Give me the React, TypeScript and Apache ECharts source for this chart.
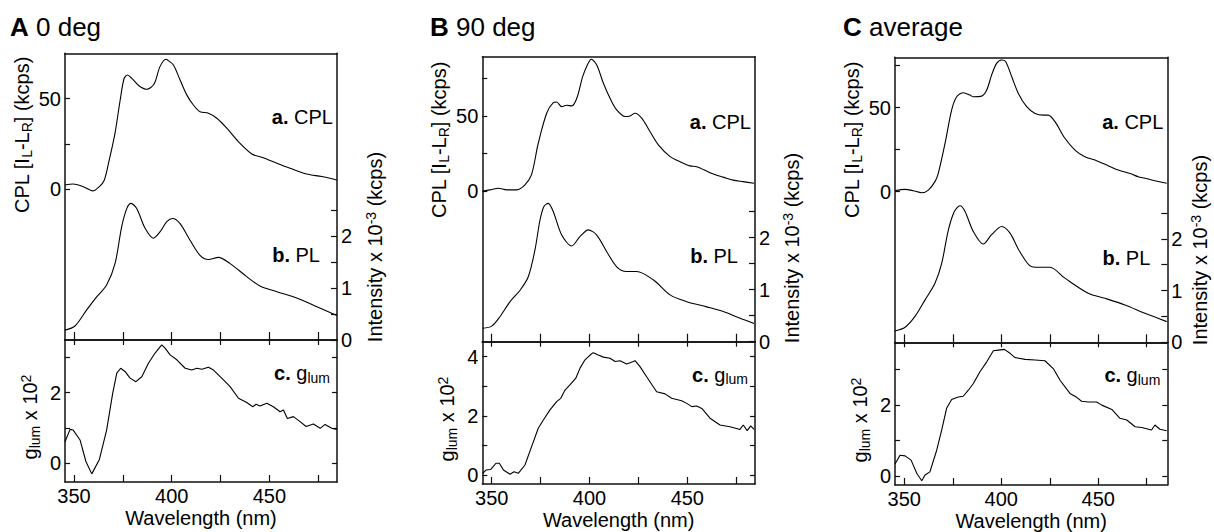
import React, { useEffect, useRef } from 'react';
import * as echarts from 'echarts';

const FONT = '"Liberation Sans", Arial, Helvetica, sans-serif';

const X_TICKS = [350, 375, 400, 425, 450, 475];
const X_LABELS = [350, 400, 450];

// Panel A (0 deg)
const A_CPL = [[345.4,2.4],[349.6,2.9],[354.8,1.4],[359.6,-0.9],[363,1.5],[365.5,5],[367.6,14],[371,31],[373.6,49],[375.6,61],[377.3,63.1],[379.5,61.3],[383.4,57],[387.2,55.2],[391,58.1],[394,67.7],[397.1,71.8],[398.3,71],[400.9,68.6],[404.3,60.3],[407.7,52.1],[411.1,46.5],[414.5,42.8],[418.8,42],[423.1,39.2],[428.2,33.7],[434.1,26.3],[441,19.5],[446.9,17.4],[453.8,14.4],[460.6,11.6],[469.1,8.4],[476.8,7],[484.5,5.1]];
const A_PL = [[345.4,0.19],[350.5,0.27],[356.5,0.58],[361.6,0.83],[366.7,1.06],[371,1.47],[374.4,2.18],[377,2.53],[379.2,2.63],[382.1,2.53],[386.4,2.15],[390.6,1.96],[394,2.08],[397.5,2.28],[400.5,2.34],[404.3,2.24],[409.4,1.92],[414.5,1.63],[418.8,1.55],[423.9,1.59],[429.9,1.47],[438.4,1.22],[445.2,1.04],[453.8,0.93],[464,0.81],[474.3,0.64],[484.5,0.47]];
const A_GLUM = [[345.4,0.61],[348,0.96],[349.6,0.94],[353.1,0.66],[356.1,0.05],[359.1,-0.3],[363,0.11],[366.7,0.94],[369.8,1.98],[371.9,2.55],[373.9,2.69],[376.1,2.6],[378.7,2.41],[381.7,2.31],[384.7,2.45],[388.1,2.83],[391.5,3.12],[394.9,3.35],[396.6,3.26],[399.2,3.07],[402.6,2.93],[406.9,2.69],[410.3,2.64],[412.9,2.69],[415.4,2.66],[418.8,2.72],[421.4,2.64],[426.5,2.36],[429.9,2.17],[434.2,1.84],[438.4,1.72],[441.5,1.6],[443.2,1.67],[445.2,1.62],[448.7,1.7],[452,1.6],[455.5,1.46],[457.2,1.51],[459.2,1.27],[462.3,1.32],[465.7,1.18],[468.8,1.04],[472.5,1.11],[476,0.99],[478.5,1.1],[481.9,0.99],[484.5,0.96]];

// Panel B (90 deg)
const B_CPL = [[345.4,0],[349.1,0.7],[353.4,1.8],[357.7,0.7],[362.8,0.7],[367,4],[370.4,11],[373.8,31.8],[378.1,51.8],[381.5,58.9],[383.2,59.3],[385.8,56.2],[388.3,57.1],[390.9,56.7],[393.5,61.8],[396.5,76.2],[398.9,84],[400.9,87.8],[403.7,84],[407.1,71.8],[410.5,61.8],[413.9,54],[418.2,49.6],[420.7,50],[423.3,51.8],[426.7,48.5],[430.9,39.6],[435.2,30.7],[441.2,22.9],[446.3,19.5],[451.4,16.7],[454.8,16.2],[461.6,12.2],[465,10.5],[468.4,9.2],[473.5,7.2],[478.6,6.2],[484.1,5.1]];
const B_PL = [[345.4,0.26],[350,0.3],[354.2,0.48],[359.4,0.77],[364.5,0.99],[368.7,1.25],[372.1,1.76],[374.7,2.34],[376.7,2.6],[378.9,2.66],[381.5,2.5],[385.8,2.05],[390.9,1.84],[395.1,2.02],[399.4,2.15],[403.7,2.05],[408.8,1.73],[413.9,1.44],[419,1.35],[424.1,1.35],[432.6,1.19],[441.2,0.9],[449.7,0.77],[459.9,0.67],[468.4,0.58],[477,0.45],[484.1,0.35]];
const B_GLUM = [[345.4,0.06],[347.1,0.17],[349.5,0.19],[352.2,0.4],[353.9,0.4],[356,0.17],[359.4,0.03],[361.4,0.11],[363.6,0.06],[367,0.34],[370.4,0.96],[373.8,1.58],[376.4,1.86],[379.8,2.2],[383.2,2.48],[385.3,2.59],[387.5,2.87],[390,3.04],[393,3.27],[395.1,3.6],[397.7,3.89],[400.3,4.05],[401.9,4.13],[404.5,4.05],[407.1,3.98],[410.5,3.94],[413.1,3.83],[415.6,3.86],[419,3.75],[422.4,3.83],[423.3,3.86],[425.8,3.66],[429.2,3.32],[434.3,2.81],[438.6,2.74],[442,2.59],[447.1,2.51],[449.7,2.42],[452.3,2.31],[454.8,2.33],[457.4,2.25],[461.6,1.92],[466.7,1.69],[471.8,1.63],[476.9,1.54],[478.6,1.69],[480.6,1.5],[482.4,1.66],[484.1,1.54]];

// Panel C (average)
const C_CPL = [[345.2,0.6],[350.4,1.4],[354.6,0.6],[359,-0.6],[362.4,1],[365.8,6],[367.5,10.9],[371,28.8],[374.4,48.6],[377,56.5],[380.4,58.9],[383.9,57.5],[385.6,56.5],[389.9,56.9],[392.5,60.5],[395,69.4],[397.6,76.4],[400.2,78.4],[402.3,77.4],[405.4,68.4],[408.8,58.5],[413.1,50.6],[417.4,46.6],[421.6,45.6],[424.2,45.6],[427.7,41.7],[432.8,31.8],[438,24.8],[443.1,20.8],[448.3,18.9],[453.5,16.3],[460.3,12.9],[467.2,10.5],[470.6,8.9],[474.1,8],[477.5,7],[485.3,5]];
const C_PL = [[345.2,0.22],[350.4,0.29],[355.5,0.5],[360.7,0.82],[365.8,1.14],[369.3,1.53],[372.7,2.17],[375.8,2.53],[378.7,2.64],[381.3,2.53],[385.6,2.14],[390.7,1.9],[395,2.08],[400.2,2.24],[404.5,2.11],[409.6,1.75],[415.7,1.46],[420.8,1.45],[425.1,1.45],[432.8,1.24],[444.8,0.95],[453.5,0.85],[463.8,0.72],[474.1,0.56],[485.3,0.4]];
const C_GLUM = [[345.2,0.34],[347.8,0.59],[350.4,0.57],[353.5,0.45],[356.4,0.08],[359,-0.13],[360.7,0.03],[363.2,0.12],[366.7,0.73],[369.3,1.3],[371.8,1.91],[374.4,2.16],[377.8,2.23],[380.4,2.25],[383,2.42],[385.6,2.61],[389,2.94],[392.5,3.22],[395.9,3.53],[398.5,3.55],[401.6,3.57],[404.5,3.46],[407.1,3.34],[412.3,3.29],[417.4,3.27],[422.5,3.25],[426.8,3.03],[430.3,2.7],[435.4,2.33],[438.9,2.22],[441.4,2.11],[444.9,2.09],[449.2,2.09],[451.8,2],[457,1.88],[461.2,1.63],[464.7,1.58],[469,1.39],[472.4,1.37],[477.5,1.3],[479.2,1.44],[481.8,1.32],[485.3,1.28]];

const PANELS = [
  { letter: 'A', title: '0 deg', cpl: A_CPL, pl: A_PL, glum: A_GLUM, cplTicks: [0, 25, 50], glumTicks: [0, 1, 2, 3], glumLabels: [0, 2] },
  { letter: 'B', title: '90 deg', cpl: B_CPL, pl: B_PL, glum: B_GLUM, cplTicks: [0, 25, 50, 75], glumTicks: [0, 1, 2, 3, 4], glumLabels: [0, 2, 4] },
  { letter: 'C', title: 'average', cpl: C_CPL, pl: C_PL, glum: C_GLUM, cplTicks: [0, 25, 50, 75], glumTicks: [0, 1, 2, 3], glumLabels: [0, 2] },
];
const CPL_LABELS = [0, 50];
const PL_TICKS = [0, 0.5, 1, 1.5, 2, 2.5];
const PL_LABELS = [0, 1, 2];

// layout (pixels) and axis extents per panel
const LAYOUT = [
  { L: 65, R: 337, T: 53.3, S: 340, B: 482, x: [345.4, 484.6], cpl: [-83.2, 75.05], pl: [0, 5.52], glum: [-0.53, 3.49], titleX: 10, cplY: 135, plY: 247, plDx: 38, glumY: 417 },
  { L: 482.3, R: 755, T: 56.7, S: 341.7, B: 484, x: [345.2, 484.6], cpl: [-100.5, 89.5], pl: [0, 5.48], glum: [-0.3, 4.5], titleX: 430, cplY: 140, plY: 248, plDx: 37, glumY: 419 },
  { L: 895, R: 1167.3, T: 57.3, S: 342.3, B: 485, x: [345.2, 485.6], cpl: [-89.6, 80], pl: [0, 5.51], glum: [-0.25, 3.77], titleX: 843, cplY: 140, plY: 250, plDx: 33, glumY: 420 },
];

const FS = 20;
const TFS = 26;
const INK = '#111';

function buildOption() {
  const grid: any[] = [];
  const xAxis: any[] = [];
  const yAxis: any[] = [];
  const series: any[] = [];
  const graphic: any[] = [];
  const line = { show: true, onZero: false, lineStyle: { color: INK, width: 1.5 } };
  const lbl = { color: '#000', fontSize: FS, fontFamily: FONT };
  const tick = (vals: number[], len: number) => ({ show: true, inside: true, length: len, customValues: vals, lineStyle: { color: INK, width: 1.2 } });
  const noSplit = { show: false };
  const rich = {
    b: { fontWeight: 'bold', fontSize: FS, fontFamily: FONT, fill: '#000' },
    sub: { fontSize: 14, lineHeight: 14, verticalAlign: 'bottom', fontFamily: FONT, fill: '#000' },
    sup: { fontSize: 14, lineHeight: 14, verticalAlign: 'top', fontFamily: FONT, fill: '#000' },
  };

  PANELS.forEach((p, i) => {
    const g = LAYOUT[i];
    const gu = 2 * i;
    const gl = 2 * i + 1;
    const W = g.R - g.L;
    grid.push({ left: g.L, top: g.T, width: W, height: g.S - g.T });
    grid.push({ left: g.L, top: g.S, width: W, height: g.B - g.S });

    // upper grid x axes
    xAxis.push({ type: 'value', gridIndex: gu, position: 'bottom', min: g.x[0], max: g.x[1], axisLine: line, axisTick: tick(X_TICKS, 8), axisLabel: { show: false }, splitLine: noSplit });
    xAxis.push({ type: 'value', gridIndex: gu, position: 'top', min: g.x[0], max: g.x[1], axisLine: line, axisTick: { show: false }, axisLabel: { show: false }, splitLine: noSplit });
    // lower grid x axes
    xAxis.push({
      type: 'value', gridIndex: gl, position: 'bottom', min: g.x[0], max: g.x[1], axisLine: line, axisTick: tick(X_TICKS, 7),
      axisLabel: { ...lbl, show: true, customValues: X_LABELS, margin: 4 }, splitLine: noSplit,
      name: 'Wavelength (nm)', nameLocation: 'middle', nameGap: 26, nameTextStyle: { ...lbl },
    });
    xAxis.push({ type: 'value', gridIndex: gl, position: 'top', min: g.x[0], max: g.x[1], axisLine: line, axisTick: tick(X_TICKS, 5), axisLabel: { show: false }, splitLine: noSplit });

    // upper y axes
    yAxis.push({ type: 'value', gridIndex: gu, position: 'left', min: g.cpl[0], max: g.cpl[1], axisLine: line, axisTick: tick(p.cplTicks, 5), axisLabel: { ...lbl, customValues: CPL_LABELS, margin: 4 }, splitLine: noSplit });
    yAxis.push({ type: 'value', gridIndex: gu, position: 'right', min: g.pl[0], max: g.pl[1], axisLine: line, axisTick: tick(PL_TICKS, 6), axisLabel: { ...lbl, customValues: PL_LABELS, margin: 4 }, splitLine: noSplit });
    // lower y axes
    yAxis.push({ type: 'value', gridIndex: gl, position: 'left', min: g.glum[0], max: g.glum[1], axisLine: line, axisTick: tick(p.glumTicks, 5), axisLabel: { ...lbl, customValues: p.glumLabels, margin: 4 }, splitLine: noSplit });
    yAxis.push({ type: 'value', gridIndex: gl, position: 'right', min: g.glum[0], max: g.glum[1], axisLine: line, axisTick: tick(p.glumTicks, 5), axisLabel: { show: false }, splitLine: noSplit });

    const ls = { color: '#000', width: 1.1 };
    series.push({ type: 'line', name: `${p.letter} CPL`, xAxisIndex: 4 * i, yAxisIndex: 4 * i, data: p.cpl, showSymbol: false, smooth: 0.3, lineStyle: ls, clip: false });
    series.push({ type: 'line', name: `${p.letter} PL`, xAxisIndex: 4 * i, yAxisIndex: 4 * i + 1, data: p.pl, showSymbol: false, smooth: 0.3, lineStyle: ls, clip: false });
    series.push({ type: 'line', name: `${p.letter} glum`, xAxisIndex: 4 * i + 2, yAxisIndex: 4 * i + 2, data: p.glum, showSymbol: false, smooth: false, lineStyle: ls, clip: false });

    // panel title
    graphic.push({ type: 'text', x: g.titleX, y: 27, style: { text: `{t|${p.letter}} ${p.title}`, rich: { t: { fontWeight: 'bold', fontSize: TFS, fontFamily: FONT, fill: '#000' } }, fontSize: TFS, fontFamily: FONT, fill: '#000', align: 'left', verticalAlign: 'middle' } });
    // axis titles (rotated)
    graphic.push({ type: 'text', x: g.L - 43, y: g.cplY, rotation: Math.PI / 2, style: { text: 'CPL [I{sub|L}-L{sub|R}] (kcps)', rich, fontSize: FS, lineHeight: 23, fontFamily: FONT, fill: '#000', align: 'center', verticalAlign: 'middle' } });
    graphic.push({ type: 'text', x: g.R + g.plDx, y: g.plY, rotation: Math.PI / 2, style: { text: 'Intensity x 10{sup|-3} (kcps)', rich, fontSize: FS, lineHeight: 23, fontFamily: FONT, fill: '#000', align: 'center', verticalAlign: 'middle' } });
    graphic.push({ type: 'text', x: g.L - 35, y: g.glumY, rotation: Math.PI / 2, style: { text: 'g{sub|lum} x 10{sup|2}', rich, fontSize: FS, lineHeight: 23, fontFamily: FONT, fill: '#000', align: 'center', verticalAlign: 'middle' } });
    // curve labels
    graphic.push({ type: 'text', x: g.R - 4, y: g.cplY - 18, style: { text: '{b|a.} CPL', rich, fontSize: FS, fontFamily: FONT, fill: '#000', align: 'right', verticalAlign: 'middle' } });
    graphic.push({ type: 'text', x: g.R - 17, y: g.plY + 8, style: { text: '{b|b.} PL', rich, fontSize: FS, fontFamily: FONT, fill: '#000', align: 'right', verticalAlign: 'middle' } });
    graphic.push({ type: 'text', x: g.R - 7, y: g.S + 33, style: { text: '{b|c.} g{sub|lum}', rich, fontSize: FS, lineHeight: 23, fontFamily: FONT, fill: '#000', align: 'right', verticalAlign: 'middle' } });
  });

  return { animation: false, backgroundColor: '#fff', grid, xAxis, yAxis, series, graphic };
}

export default function App() {
  const ref = useRef<HTMLDivElement>(null);
  useEffect(() => {
    if (!ref.current) return;
    const chart = echarts.init(ref.current, null, { renderer: 'svg' });
    chart.setOption(buildOption() as any);
    return () => chart.dispose();
  }, []);
  return <div ref={ref} style={{ position: 'fixed', left: 0, top: 0, width: 1214, height: 532, background: '#fff' }} />;
}
